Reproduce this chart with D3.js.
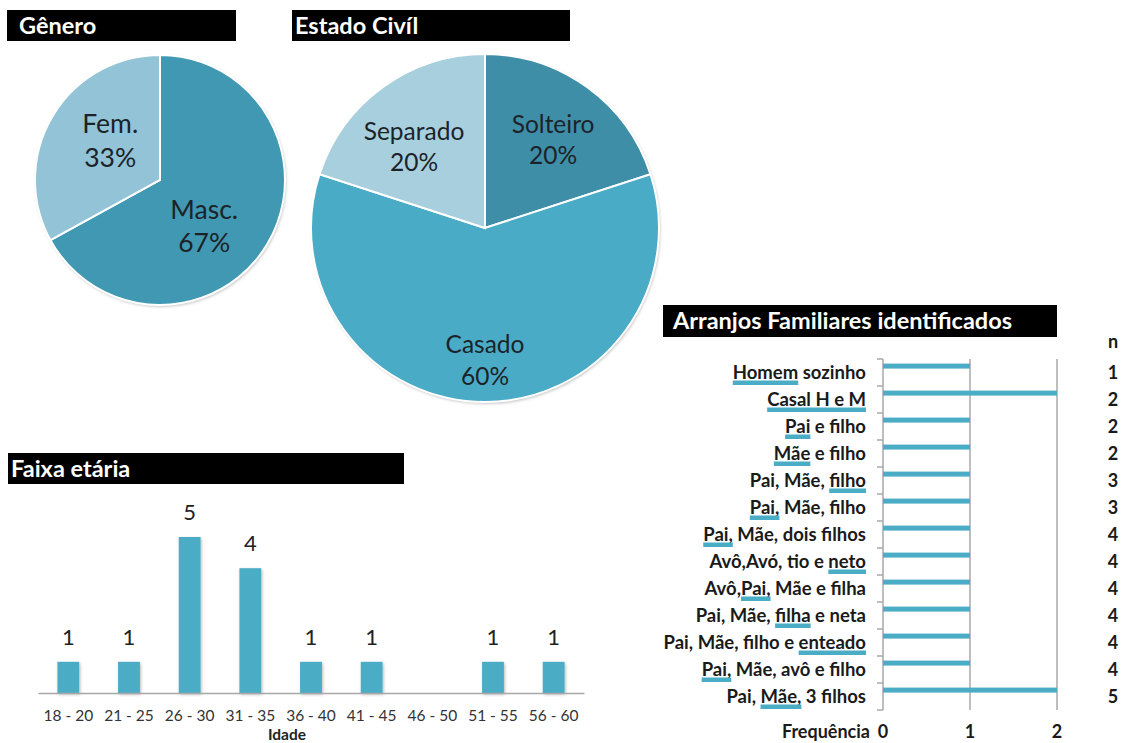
<!DOCTYPE html>
<html>
<head>
<meta charset="utf-8">
<script src="https://cdn.jsdelivr.net/npm/d3@7"></script>
<style>
  body { margin: 0; background: #fff; }
  text { font-family: Lato, "Open Sans", sans-serif; }
</style>
</head>
<body>
<svg id="chart" width="1123" height="743"></svg>
<script>
// ---- data ----
const genderLabels = ["Masc.", "Fem."];
const genderValues = [67, 33];

const civilLabels = ["Solteiro", "Casado", "Separado"];
const civilValues = [20, 60, 20];

const ageGroups = ["18 - 20", "21 - 25", "26 - 30", "31 - 35", "36 - 40", "41 - 45", "46 - 50", "51 - 55", "56 - 60"];
const ageCounts = [1, 1, 5, 4, 1, 1, 0, 1, 1];

const arrangements = [
  "Homem sozinho", "Casal H e M", "Pai e filho", "Mãe e filho", "Pai, Mãe, filho",
  "Pai, Mãe, filho", "Pai, Mãe, dois filhos", "Avô,Avó, tio e neto", "Avô,Pai, Mãe e filha",
  "Pai, Mãe, filha e neta", "Pai, Mãe, filho e enteado", "Pai, Mãe, avô e filho", "Pai, Mãe, 3 filhos"
];
const arrangementHighlight = ["Homem", "Casal H e M", "Pai", "Mãe", "filho", "Pai,", "Pai,", "neto", "Pai,", "filha", "enteado", "Pai,", "Mãe,"];
const arrangementFreq = [1, 2, 1, 1, 1, 1, 1, 1, 1, 1, 1, 1, 2];
const arrangementSize = [1, 2, 2, 2, 3, 3, 4, 4, 4, 4, 4, 4, 5];
const freqTicks = [0, 1, 2];

// ---- styling ----
const teal = "#4bacc6";
const gridGray = "#a8a8a8";
const svg = d3.select("#chart");

const defs = svg.append("defs");
const shadow = defs.append("filter").attr("id", "soft").attr("x", "-10%").attr("y", "-10%").attr("width", "130%").attr("height", "130%");
shadow.append("feDropShadow").attr("dx", 1).attr("dy", 1.5).attr("stdDeviation", 1.5).attr("flood-color", "#000").attr("flood-opacity", 0.28);

// black title bar with white bold text
function titleBar(x, y, w, h, label, inset) {
  svg.append("rect").attr("x", x).attr("y", y).attr("width", w).attr("height", h).attr("fill", "#000");
  svg.append("text").attr("x", x + inset).attr("y", y + h / 2).attr("dy", "0.36em")
    .attr("fill", "#fff").attr("font-weight", 700).attr("font-size", 23.5).text(label);
}

titleBar(7, 10, 229, 31, "Gênero", 12);
titleBar(292, 10, 278, 31, "Estado Civíl", 3);
titleBar(8, 453, 396, 31, "Faixa etária", 3);
titleBar(663, 305, 394, 32, "Arranjos Familiares identificados", 10);

// ---- pies ----
function drawPie(cx, cy, r, labels, values, colors, fontSize, labelPos) {
  const g = svg.append("g").attr("transform", `translate(${cx},${cy})`);
  const pie = d3.pie().sort(null).value(d => d.v);
  const arcs = pie(labels.map((l, i) => ({ l, v: values[i] })));
  const arc = d3.arc().innerRadius(0).outerRadius(r);
  g.append("circle").attr("r", r).attr("fill", "#fff").attr("filter", "url(#soft)");
  g.selectAll("path").data(arcs).join("path")
    .attr("d", arc).attr("fill", (d, i) => colors[i])
    .attr("stroke", "#fff").attr("stroke-width", 2);
  const lab = g.selectAll("g.lab").data(arcs).join("g").attr("class", "lab")
    .attr("transform", d => {
      const p = labelPos[d.data.l];
      const a = (d.startAngle + d.endAngle) / 2 + (p.da || 0);
      return `translate(${Math.sin(a) * p.k * r},${-Math.cos(a) * p.k * r})`;
    });
  lab.append("text").attr("text-anchor", "middle").attr("y", -fontSize * 0.64).attr("dy", "0.36em")
    .attr("font-size", fontSize).attr("fill", "#1c2328").text(d => d.data.l);
  lab.append("text").attr("text-anchor", "middle").attr("y", fontSize * 0.64).attr("dy", "0.36em")
    .attr("font-size", fontSize).attr("fill", "#1c2328").text(d => d.data.v + "%");
}

drawPie(160, 180, 125, genderLabels, genderValues, ["#4198b3", "#93c3d6"], 26.5,
  { "Masc.": { k: 0.51, da: 0.27 }, "Fem.": { k: 0.51, da: 0.14 } });
drawPie(485, 228, 174, civilLabels, civilValues, ["#3f8ea8", "#4aabc6", "#a7cfdd"], 24.5,
  { "Solteiro": { k: 0.64, da: 0.03 }, "Casado": { k: 0.76 }, "Separado": { k: 0.62, da: -0.09 } });

// ---- age histogram ----
const ageX = d3.scaleBand().domain(ageGroups).range([38, 584]).paddingInner(0.64).paddingOuter(0.32);
const ageY = d3.scaleLinear().domain([0, 5]).range([693, 537]);
const ageG = svg.append("g");
const ageData = ageGroups.map((g, i) => ({ g, v: ageCounts[i] }));
ageG.selectAll("rect").data(ageData.filter(d => d.v > 0)).join("rect")
  .attr("x", d => ageX(d.g)).attr("width", ageX.bandwidth())
  .attr("y", d => ageY(d.v)).attr("height", d => ageY(0) - ageY(d.v))
  .attr("fill", teal).attr("filter", "url(#soft)");
ageG.selectAll("text.val").data(ageData.filter(d => d.v > 0)).join("text").attr("class", "val")
  .attr("x", d => ageX(d.g) + ageX.bandwidth() / 2).attr("y", d => ageY(d.v) - 25).attr("dy", "0.36em")
  .attr("text-anchor", "middle").attr("font-size", 22).attr("fill", "#222").text(d => d.v);
const ageAxis = svg.append("g").attr("transform", `translate(0,${ageY(0)})`)
  .call(d3.axisBottom(ageX).tickSize(0).tickPadding(17));
ageAxis.select(".domain").attr("stroke", gridGray).attr("stroke-width", 1.5);
ageAxis.selectAll("text").attr("font-size", 15.5).attr("fill", "#333").attr("font-family", "Lato, sans-serif");
svg.append("text").attr("x", 287).attr("y", 734).attr("dy", "0.36em").attr("text-anchor", "middle")
  .attr("font-size", 15.5).attr("font-weight", 700).attr("fill", "#222").text("Idade");

// ---- family arrangements ----
const fx = d3.scaleLinear().domain([0, 2]).range([883, 1057]);
const fy = d3.scaleBand().domain(d3.range(arrangements.length)).range([359, 710]);
const famG = svg.append("g");

famG.selectAll("line.grid").data(freqTicks).join("line").attr("class", "grid")
  .attr("x1", d => fx(d)).attr("x2", d => fx(d)).attr("y1", 359).attr("y2", 710)
  .attr("stroke", gridGray).attr("stroke-width", 1.5);
famG.selectAll("line.tick").data(d3.range(arrangements.length + 1)).join("line").attr("class", "tick")
  .attr("x1", fx(0) - 6).attr("x2", fx(0))
  .attr("y1", i => 359 + i * fy.step()).attr("y2", i => 359 + i * fy.step())
  .attr("stroke", gridGray).attr("stroke-width", 1.5);

famG.selectAll("rect.bar").data(arrangementFreq).join("rect").attr("class", "bar")
  .attr("x", fx(0)).attr("y", (d, i) => fy(i) + fy.bandwidth() * 0.17)
  .attr("width", d => fx(d) - fx(0)).attr("height", 5).attr("fill", teal);

const labelX = 866;
const labels = famG.selectAll("text.lab").data(arrangements).join("text").attr("class", "lab")
  .attr("x", labelX).attr("y", (d, i) => fy(i) + fy.bandwidth() / 2).attr("dy", "0.36em")
  .attr("text-anchor", "end").attr("font-size", 18.5).attr("font-weight", 700).attr("fill", "#1a1a1a")
  .text(d => d);

// teal underline under the highlighted member of each arrangement
labels.each(function (d, i) {
  const node = this;
  const word = arrangementHighlight[i];
  const idx = d.indexOf(word);
  const total = node.getComputedTextLength();
  const before = idx > 0 ? node.getSubStringLength(0, idx) : 0;
  const w = node.getSubStringLength(idx, word.length);
  famG.append("rect")
    .attr("x", labelX - total + before).attr("width", w)
    .attr("y", fy(i) + fy.bandwidth() / 2 + 8).attr("height", 4.5)
    .attr("fill", teal);
});

famG.selectAll("text.n").data(arrangementSize).join("text").attr("class", "n")
  .attr("x", 1113).attr("y", (d, i) => fy(i) + fy.bandwidth() / 2).attr("dy", "0.36em")
  .attr("text-anchor", "middle").attr("font-size", 18).attr("font-weight", 700).attr("fill", "#1a1a1a")
  .text(d => d);
famG.append("text").attr("x", 1113).attr("y", 342).attr("dy", "0.36em").attr("text-anchor", "middle")
  .attr("font-size", 18).attr("font-weight", 700).attr("fill", "#1a1a1a").text("n");

famG.selectAll("text.fx").data(freqTicks).join("text").attr("class", "fx")
  .attr("x", d => fx(d)).attr("y", 732).attr("dy", "0.36em").attr("text-anchor", "middle")
  .attr("font-size", 18).attr("font-weight", 700).attr("fill", "#1a1a1a").text(d => d);
famG.append("text").attr("x", 870).attr("y", 732).attr("dy", "0.36em").attr("text-anchor", "end")
  .attr("font-size", 18).attr("font-weight", 700).attr("fill", "#1a1a1a").text("Frequência");
</script>
</body>
</html>
